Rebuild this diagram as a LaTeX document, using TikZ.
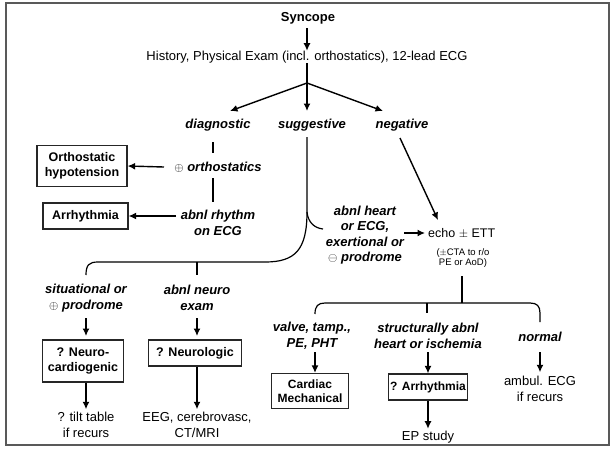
\documentclass[tikz,border=0pt]{standalone}
\usepackage{fontspec}
\setmainfont{Liberation Sans}
\usetikzlibrary{arrows.meta}
\begin{document}
\begin{tikzpicture}[x=1pt,y=-1pt,
  txt/.style={font=\fontsize{13}{15.5}\selectfont, align=center, inner sep=0pt},
  lbl/.style={font=\fontsize{13}{15.5}\selectfont\bfseries\itshape, align=center, inner sep=0pt},
  small/.style={font=\fontsize{9.5}{10}\selectfont, align=center, inner sep=0pt},
  boxed/.style 2 args={draw=black!85, line width=1.2pt, font=\fontsize{12.5}{15}\selectfont\bfseries,
    align=center, inner sep=0pt, minimum width=#1, minimum height=#2},
  arr/.style={line width=1.4pt, -{Latex[length=7.5pt,width=7pt]}},
  ln/.style={line width=1.2pt}
]
% page and frame
\useasboundingbox (0,0) rectangle (611,448);
\fill[white] (0,0) rectangle (611,448);
\draw[black!65, line width=1.6pt] (6,3) rectangle (609,445);

% top of the tree
\node[font=\fontsize{13}{15.5}\selectfont\bfseries, inner sep=0pt] (syn) at (308,18) {Syncope};
\node[txt] (hist) at (307,57) {History, Physical Exam (incl. orthostatics), 12-lead ECG};
\draw[arr] (307,28) -- (hist.north);
\coordinate (fork) at (307,83);
\draw[ln] (hist.south) -- (fork);

\node[lbl] (diag) at (218,125) {diagnostic};
\node[lbl] (sugg) at (312,125) {suggestive};
\node[lbl] (neg) at (402,125) {negative};
\draw[arr] (fork) -- (230,111);
\draw[arr] (fork) -- (307,111);
\draw[arr] (fork) -- (383,111);

% diagnostic branch
\node[lbl] (orth) at (218,167) {{\mdseries\upshape$\oplus$} orthostatics};
\node[lbl] (rhy) at (218,223) {abnl rhythm\\on ECG};
\draw[ln] (213,142) -- (213,153);
\draw[ln] (213,178) -- (213,202);
\node[boxed={90pt}{41pt}] (oh) at (82,166) {Orthostatic\\hypotension};
\node[boxed={85pt}{26pt}] (arh) at (85.5,216) {Arrhythmia};
\draw[arr] (164,167) -- (oh.east);
\draw[arr] (176,216) -- (arh.east);

% suggestive branch
\coordinate (sfork) at (307,212);
\coordinate (sleft) at (86,275);
\coordinate (smid) at (197,275);
\coordinate (sright) at (323,229);
\draw[ln] (307,137) -- (sfork)
  .. controls (307,250) and (295,262) .. (265,262) -- (98,262)
  .. controls (89,262) and (86,265) .. (sleft);
\draw[ln] (197,262) -- (smid);
\draw[ln] (sfork) .. controls (308,222) and (314,228) .. (sright);

\node[lbl] (sit) at (86,298) {situational or\\{\mdseries\upshape$\oplus$} prodrome};
\node[lbl] (neuro) at (197,298) {abnl neuro\\exam};
\draw[arr] (86,318) -- (86,336);
\draw[arr] (197,318) -- (197,336);
\node[boxed={81pt}{42pt}] (nc) at (83,361) {? Neuro-\\cardiogenic};
\node[boxed={93pt}{26pt}] (nl) at (195,353) {? Neurologic};
\node[txt] (tilt) at (86,425) {? tilt table\\if recurs};
\node[txt] (eeg) at (197,425) {EEG, cerebrovasc,\\CT/MRI};
\draw[arr] (nc.south -| tilt.north) -- ([yshift=3pt]tilt.north);
\draw[arr] (nl.south -| eeg.north) -- ([yshift=3pt]eeg.north);

% negative branch
\node[lbl] (abh) at (365,235) {abnl heart\\or ECG,\\exertional or\\{\mdseries\upshape$\ominus$} prodrome};
\node[font=\fontsize{12.5}{15}\selectfont, inner sep=0pt, anchor=west] (echo) at (428,233) {echo $\pm$ ETT};
\node[small] (cta) at (463,258) {($\pm$CTA to r/o\\PE or AoD)};
\draw[arr] (400,138) -- (438,220);
\draw[arr] (404,233) -- ([xshift=-3pt]echo.west);

\coordinate (efork) at (462,303);
\draw[ln] (462,276) -- (efork);
\coordinate (eleft) at (315,314);
\coordinate (emid) at (427,313);
\coordinate (eright) at (540,322);
\draw[ln] (eleft) .. controls (315,306) and (318,303) .. (325,303) -- (530,303)
  .. controls (537,303) and (540,306) .. (540,313) -- (eright);
\draw[ln] (427,303) -- (emid);

\node[lbl] (valve) at (312,336) {valve, tamp.,\\PE, PHT};
\node[lbl] (struct) at (428,336) {structurally abnl\\heart or ischemia};
\node[lbl] (norm) at (540,337) {normal};
\node[boxed={77pt}{35pt}, font=\fontsize{12}{14.5}\selectfont\bfseries] (cm) at (310,391) {Cardiac\\Mechanical};
\node[boxed={79pt}{26pt}, font=\fontsize{12}{14.5}\selectfont\bfseries] (ar2) at (428,387) {? Arrhythmia};
\node[txt] (ep) at (428,437) {EP study};
\node[txt] (amb) at (540,389) {ambul. ECG\\if recurs};
\draw[arr] (315,352) -- (cm.north -| 315,0);
\draw[arr] (428,352) -- (ar2.north);
\draw[arr] (540,352) -- ([yshift=4pt]amb.north);
\draw[arr] (ar2.south) -- ([yshift=2pt]ep.north);
\end{tikzpicture}
\end{document}
